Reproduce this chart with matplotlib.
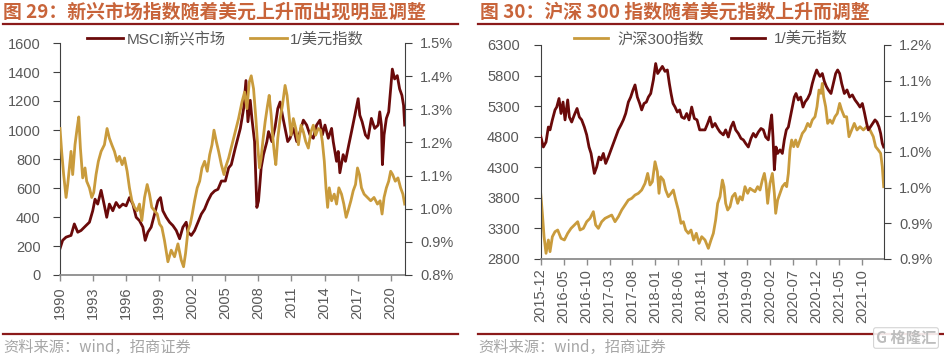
import numpy as np
import matplotlib
matplotlib.use("Agg")
import matplotlib.pyplot as plt
from matplotlib.lines import Line2D

plt.rcParams['font.family'] = ['Liberation Sans', 'Noto Sans CJK SC', 'DejaVu Sans']

# ---------- left chart: MSCI EM vs 1/DXY ----------
msci_year = [1990.00, 1990.24, 1990.55, 1991.00, 1991.30, 1991.61, 1991.91, 1992.36, 1992.67, 1992.97,
             1993.18, 1993.42, 1993.73, 1994.03, 1994.24, 1994.48, 1994.79, 1995.09, 1995.39, 1995.70,
             1996.00, 1996.30, 1996.61, 1996.91, 1997.21, 1997.52, 1997.73, 1997.97, 1998.27, 1998.58,
             1998.88, 1999.12, 1999.33, 1999.64, 1999.94, 2000.24, 2000.55, 2000.85, 2001.15, 2001.45,
             2001.61, 2001.91, 2002.21, 2002.52, 2002.82, 2003.12, 2003.42, 2003.73, 2004.03, 2004.33,
             2004.64, 2005.00, 2005.30, 2005.54, 2005.90, 2006.36, 2006.66, 2006.87, 2007.05, 2007.26,
             2007.41, 2007.65, 2007.86, 2008.01, 2008.25, 2008.46, 2008.77, 2008.92, 2009.22, 2009.52,
             2009.76, 2009.97, 2010.18, 2010.42, 2010.66, 2010.87, 2011.17, 2011.48, 2011.78, 2012.08,
             2012.38, 2012.68, 2012.98, 2013.28, 2013.58, 2013.80, 2014.04, 2014.34, 2014.64, 2014.79,
             2015.09, 2015.24, 2015.39, 2015.69, 2015.90, 2016.20, 2016.45, 2016.75, 2017.05, 2017.20,
             2017.41, 2017.71, 2017.95, 2018.25, 2018.55, 2018.86, 2019.01, 2019.16, 2019.25, 2019.40,
             2019.61, 2019.82, 2020.00, 2020.15, 2020.36, 2020.60, 2020.81, 2021.02, 2021.17, 2021.27]
msci_val = [182, 239, 261, 273, 352, 295, 307, 341, 364, 443,
            523, 489, 584, 477, 398, 489, 443, 500, 466, 489,
            477, 534, 489, 398, 375, 330, 239, 295, 330, 420,
            511, 534, 443, 398, 364, 341, 307, 250, 330, 364,
            295, 273, 307, 364, 420, 455, 511, 557, 580, 591,
            648, 648, 739, 761, 875, 1011, 1148, 1341, 1057, 1205,
            1080, 920, 466, 511, 739, 830, 920, 989, 920, 1023,
            1148, 1193, 1102, 1011, 920, 943, 1011, 920, 989, 1068,
            1034, 966, 943, 1034, 1068, 966, 1034, 943, 1011, 920,
            784, 852, 705, 830, 784, 898, 989, 1102, 1216, 1102,
            1057, 966, 943, 1080, 1011, 1034, 1125, 1034, 761, 966,
            1080, 1125, 1284, 1420, 1352, 1375, 1284, 1239, 1170, 1034]

usd_year = [1990.00, 1990.15, 1990.33, 1990.55, 1990.70, 1990.85, 1991.00, 1991.15, 1991.36, 1991.55,
            1991.70, 1991.85, 1992.06, 1992.27, 1992.42, 1992.67, 1992.88, 1993.06, 1993.27, 1993.48,
            1993.73, 1994.03, 1994.27, 1994.48, 1994.70, 1994.94, 1995.18, 1995.39, 1995.64, 1995.85,
            1996.09, 1996.30, 1996.52, 1996.76, 1997.00, 1997.21, 1997.42, 1997.67, 1997.91, 1998.12,
            1998.33, 1998.58, 1998.82, 1999.03, 1999.24, 1999.48, 1999.79, 2000.09, 2000.39, 2000.70,
            2001.00, 2001.21, 2001.39, 2001.61, 2001.82, 2002.00, 2002.21, 2002.45, 2002.67, 2002.88,
            2003.12, 2003.36, 2003.58, 2003.79, 2003.97, 2004.18, 2004.39, 2004.64, 2004.88, 2005.00,
            2005.30, 2005.60, 2005.90, 2006.20, 2006.51, 2006.75, 2006.96, 2007.17, 2007.35, 2007.56,
            2007.77, 2007.95, 2008.10, 2008.25, 2008.40, 2008.61, 2008.83, 2008.98, 2009.16, 2009.31,
            2009.46, 2009.58, 2009.76, 2009.97, 2010.18, 2010.42, 2010.60, 2010.78, 2010.96, 2011.17,
            2011.39, 2011.63, 2011.87, 2012.08, 2012.29, 2012.53, 2012.77, 2012.98, 2013.19, 2013.43,
            2013.64, 2013.80, 2013.98, 2014.13, 2014.28, 2014.43, 2014.64, 2014.88, 2015.09, 2015.30,
            2015.54, 2015.75, 2015.96, 2016.14, 2016.39, 2016.60, 2016.81, 2016.99, 2017.17, 2017.35,
            2017.59, 2017.89, 2018.19, 2018.49, 2018.80, 2019.04, 2019.22, 2019.40, 2019.61, 2019.82,
            2020.00, 2020.18, 2020.42, 2020.66, 2020.90, 2021.11, 2021.27]
usd_val = [1.242, 1.173, 1.103, 1.034, 1.073, 1.123, 1.173, 1.103, 1.193, 1.242,
           1.277, 1.183, 1.093, 1.123, 1.083, 1.063, 1.034, 1.049, 1.103, 1.143,
           1.173, 1.193, 1.242, 1.213, 1.193, 1.173, 1.143, 1.158, 1.133, 1.153,
           1.113, 1.063, 1.024, 1.004, 0.994, 1.014, 0.964, 1.034, 1.073, 1.044,
           1.004, 0.994, 0.984, 0.954, 0.944, 0.904, 0.840, 0.875, 0.855, 0.894,
           0.845, 0.825, 0.865, 0.934, 0.954, 0.984, 1.024, 1.063, 1.083, 1.123,
           1.143, 1.113, 1.163, 1.193, 1.237, 1.203, 1.173, 1.133, 1.103, 1.123,
           1.153, 1.193, 1.232, 1.272, 1.322, 1.352, 1.302, 1.382, 1.401, 1.362,
           1.272, 1.183, 1.123, 1.153, 1.203, 1.262, 1.312, 1.342, 1.282, 1.213,
           1.163, 1.133, 1.213, 1.272, 1.312, 1.372, 1.342, 1.282, 1.222, 1.272,
           1.242, 1.193, 1.252, 1.232, 1.203, 1.183, 1.232, 1.252, 1.222, 1.242,
           1.237, 1.203, 1.143, 1.063, 1.004, 1.063, 1.024, 1.044, 1.014, 1.063,
           1.044, 1.014, 0.974, 0.994, 1.024, 1.054, 1.073, 1.123, 1.103, 1.063,
           1.044, 1.034, 1.024, 1.034, 1.014, 1.024, 0.984, 1.034, 1.063, 1.083,
           1.113, 1.103, 1.083, 1.093, 1.063, 1.044, 1.014]

left_xticks = [1990, 1993, 1996, 1999, 2002, 2005, 2008, 2011, 2014, 2017, 2020]

# ---------- right chart: CSI 300 vs 1/DXY (months since 2015-12) ----------
csi_month = [0.00, 0.36, 0.73, 1.16, 1.67, 2.03, 2.54, 3.12, 3.70, 4.43,
             5.16, 5.88, 6.61, 7.33, 8.06, 8.57, 9.30, 10.02, 10.75, 11.47,
             11.98, 12.56, 13.29, 14.02, 14.74, 15.47, 16.19, 16.92, 17.65, 18.37,
             19.10, 19.83, 20.55, 21.28, 22.00, 22.73, 23.31, 23.82, 24.33, 24.91,
             25.42, 25.78, 26.14, 26.73, 27.23, 27.81, 28.40, 28.90, 29.41, 29.99,
             30.57, 31.08, 31.59, 32.17, 32.75, 33.33, 33.91, 34.50, 35.08, 35.80,
             36.53, 37.11, 37.62, 38.12, 38.56, 39.07, 39.58, 39.94, 40.30, 40.74,
             41.25, 41.75, 42.34, 42.92, 43.43, 43.93, 44.51, 45.10, 45.60, 46.11,
             46.69, 47.27, 47.78, 48.29, 48.73, 49.09, 49.45, 49.96, 50.47, 50.91,
             51.20, 51.63, 52.14, 52.65, 53.23, 53.59, 53.96, 54.32, 54.68, 55.12,
             55.55, 55.99, 56.50, 57.01, 57.59, 58.17, 58.68, 59.18, 59.77, 60.20,
             60.64, 61.07, 61.36, 61.65, 62.09, 62.52, 63.03, 63.54, 64.12, 64.63,
             65.14, 65.58, 66.16, 66.66, 67.17, 67.75, 68.33, 68.92, 69.57, 70.30,
             71.02, 71.75, 72.47, 72.98, 73.56, 74.07, 74.43, 74.73]
csi_val = [3874, 3547, 3165, 2893, 3111, 2920, 3165, 3247, 3274, 3138,
           3111, 3220, 3301, 3356, 3410, 3274, 3301, 3410, 3465, 3574,
           3356, 3301, 3410, 3465, 3492, 3519, 3410, 3492, 3601, 3683,
           3765, 3792, 3846, 3874, 3928, 4037, 4200, 4010, 4064, 4391,
           4228, 3874, 4146, 4091, 3928, 3819, 3874, 3928, 3765, 3601,
           3383, 3410, 3274, 3220, 3274, 3111, 3220, 3056, 3165, 3111,
           2974, 3111, 3220, 3438, 3710, 3819, 4091, 3983, 3710, 3601,
           3656, 3819, 3874, 3710, 3819, 3765, 3983, 3874, 3956, 3928,
           3901, 3983, 3928, 4091, 4200, 4037, 3710, 4037, 4200, 3874,
           3547, 3765, 3874, 3983, 4037, 3983, 4200, 4582, 4746, 4637,
           4746, 4637, 4746, 4855, 4910, 5018, 4964, 5073, 5127, 5290,
           5563, 5509, 5672, 5454, 5290, 5018, 5073, 5018, 5127, 5181,
           5345, 5236, 5127, 5127, 4800, 4910, 5018, 4910, 4964, 4910,
           4964, 4910, 4800, 4637, 4582, 4528, 4310, 3983]

dxy_month = [0.00, 0.58, 1.16, 1.67, 2.03, 2.54, 3.12, 3.49, 3.99, 4.43,
             4.87, 5.30, 5.88, 6.25, 6.75, 7.33, 7.92, 8.42, 8.93, 9.51,
             10.02, 10.53, 10.97, 11.33, 11.69, 12.20, 12.71, 13.14, 13.65, 14.16,
             14.74, 15.32, 15.83, 16.34, 16.92, 17.50, 18.01, 18.52, 19.10, 19.61,
             20.12, 20.55, 21.06, 21.57, 22.00, 22.51, 23.02, 23.46, 23.97, 24.55,
             25.05, 25.49, 26.00, 26.51, 27.09, 27.60, 28.03, 28.40, 28.83, 29.27,
             29.77, 30.28, 30.72, 31.30, 31.81, 32.32, 32.90, 33.48, 34.06, 34.64,
             35.22, 35.80, 36.38, 36.89, 37.40, 37.98, 38.56, 39.07, 39.79, 40.30,
             40.88, 41.46, 41.97, 42.48, 43.06, 43.64, 44.15, 44.66, 45.24, 45.82,
             46.33, 46.84, 47.42, 48.00, 48.51, 49.02, 49.60, 50.03, 50.32, 50.61,
             50.91, 51.27, 51.63, 52.14, 52.65, 53.08, 53.52, 53.96, 54.39, 54.83,
             55.26, 55.63, 56.13, 56.64, 57.15, 57.59, 58.17, 58.68, 59.18, 59.62,
             60.13, 60.49, 60.85, 61.36, 61.80, 62.23, 62.67, 63.25, 63.76, 64.27,
             64.70, 65.14, 65.58, 66.16, 66.74, 67.32, 67.90, 68.48, 69.06, 69.57,
             70.08, 70.51, 71.02, 71.38, 71.82, 72.33, 72.84, 73.27, 73.71, 74.07,
             74.43, 74.73]
dxy_val = [1.072, 1.057, 1.064, 1.085, 1.081, 1.095, 1.109, 1.113, 1.125, 1.104,
           1.120, 1.095, 1.123, 1.099, 1.092, 1.102, 1.111, 1.099, 1.095, 1.085,
           1.074, 1.057, 1.048, 1.034, 1.020, 1.029, 1.043, 1.039, 1.048, 1.034,
           1.043, 1.053, 1.062, 1.071, 1.081, 1.088, 1.095, 1.104, 1.120, 1.127,
           1.137, 1.144, 1.127, 1.118, 1.109, 1.118, 1.120, 1.127, 1.132, 1.151,
           1.174, 1.160, 1.165, 1.170, 1.163, 1.165, 1.146, 1.132, 1.118, 1.113,
           1.106, 1.109, 1.099, 1.097, 1.104, 1.095, 1.113, 1.097, 1.095, 1.081,
           1.081, 1.081, 1.090, 1.099, 1.085, 1.090, 1.083, 1.078, 1.074, 1.081,
           1.071, 1.085, 1.092, 1.081, 1.076, 1.069, 1.067, 1.062, 1.057, 1.069,
           1.076, 1.071, 1.078, 1.083, 1.081, 1.071, 1.067, 1.090, 1.102, 1.071,
           1.025, 1.057, 1.048, 1.053, 1.048, 1.067, 1.081, 1.085, 1.099, 1.113,
           1.127, 1.132, 1.123, 1.127, 1.113, 1.120, 1.125, 1.132, 1.146, 1.156,
           1.165, 1.160, 1.156, 1.160, 1.149, 1.142, 1.137, 1.132, 1.146, 1.160,
           1.165, 1.160, 1.146, 1.132, 1.137, 1.127, 1.130, 1.123, 1.118, 1.113,
           1.118, 1.106, 1.090, 1.081, 1.085, 1.090, 1.095, 1.092, 1.085, 1.076,
           1.062, 1.057]

right_xticks = [0, 5, 10, 15, 20, 25, 30, 35, 40, 45, 50, 55, 60, 65, 70]
right_xlabels = ['2015-12', '2016-05', '2016-10', '2017-03', '2017-08', '2018-01', '2018-06',
                 '2018-11', '2019-04', '2019-09', '2020-02', '2020-07', '2020-12', '2021-05', '2021-10']
right_y2ticks = [0.90, 0.95, 1.00, 1.05, 1.10, 1.15, 1.20]
right_y2labels = ['0.9%', '0.9%', '1.0%', '1.0%', '1.1%', '1.1%', '1.2%']

RED = '#6A0A0A'
GOLD = '#C99B3C'
TITLE_C = '#C8643A'
RULE_C = '#8B1A1A'
TXT = '#595959'
FS = 10.5
LW = 2.0

W, H = 944, 356
fig = plt.figure(figsize=(W / 100, H / 100), dpi=100)


def px(x, y):
    return x / W, 1 - y / H


def style(ax, ax2, lpad, rpad, xpad):
    for a in (ax, ax2):
        a.spines['top'].set_visible(False)
        a.patch.set_visible(False)
    ax.spines['left'].set_color('#404040')
    ax.spines['left'].set_linewidth(0.8)
    ax2.spines['right'].set_color('#404040')
    ax2.spines['right'].set_linewidth(0.8)
    ax.spines['bottom'].set_color('#8C8C8C')
    ax.spines['bottom'].set_linewidth(1.3)
    ax2.spines['bottom'].set_visible(False)
    ax2.spines['left'].set_visible(False)
    ax.spines['right'].set_visible(False)
    ax.tick_params(axis='y', direction='out', length=5, width=0.8, color='#404040',
                   labelsize=FS, labelcolor=TXT, pad=lpad)
    ax2.tick_params(axis='y', direction='out', length=5, width=0.8, color='#404040',
                    labelsize=FS, labelcolor=TXT, pad=rpad)
    ax.tick_params(axis='x', direction='out', length=4, width=1.0, color='#8C8C8C',
                   labelsize=FS, labelcolor=TXT, pad=xpad, labelrotation=90)


# left panel
ax = fig.add_axes([60 / W, 1 - 275 / H, 345 / W, 232 / H])
ax2 = ax.twinx()
ax.plot(msci_year, msci_val, color=RED, lw=LW)
ax2.plot(usd_year, usd_val, color=GOLD, lw=LW)
ax.set_xlim(1990, 2021.3)
ax.set_ylim(0, 1600)
ax.set_yticks(range(0, 1601, 200))
ax2.set_ylim(0.8, 1.5)
ax2.set_yticks([0.8, 0.9, 1.0, 1.1, 1.2, 1.3, 1.4, 1.5])
ax2.set_yticklabels([f'{v:.1f}%' for v in [0.8, 0.9, 1.0, 1.1, 1.2, 1.3, 1.4, 1.5]])
ax.set_xticks(left_xticks)
ax.set_xticklabels([str(y) for y in left_xticks])
style(ax, ax2, 9, 6, 4)

# right panel
bx = fig.add_axes([540.7 / W, 1 - 259 / H, 343.3 / W, 214 / H])
bx2 = bx.twinx()
bx.plot(csi_month, csi_val, color=GOLD, lw=LW)
bx2.plot(dxy_month, dxy_val, color=RED, lw=LW)
bx.set_xlim(0, 74.8)
bx.set_ylim(2800, 6300)
bx.set_yticks(range(2800, 6301, 500))
bx2.set_ylim(0.9, 1.2)
bx2.set_yticks(right_y2ticks)
bx2.set_yticklabels(right_y2labels)
bx.set_xticks(right_xticks)
bx.set_xticklabels(right_xlabels)
style(bx, bx2, 10, 6, 3)

# legends
fig.legend(handles=[Line2D([], [], color=RED, lw=LW), Line2D([], [], color=GOLD, lw=LW)],
           labels=['MSCI新兴市场', '1/美元指数'], loc='center', bbox_to_anchor=px(225, 39),
           ncol=2, frameon=False, fontsize=FS + 0.5, labelcolor=TXT, handlelength=2.4,
           handletextpad=0.2, columnspacing=1.6, borderaxespad=0)
fig.legend(handles=[Line2D([], [], color=GOLD, lw=LW), Line2D([], [], color=RED, lw=LW)],
           labels=['沪深300指数', '1/美元指数'], loc='center', bbox_to_anchor=px(711, 39),
           ncol=2, frameon=False, fontsize=FS + 0.5, labelcolor=TXT, handlelength=2.2,
           handletextpad=0.6, columnspacing=1.8, borderaxespad=0)

# titles, rules, source
fig.text(*px(3, 12), '图 29：新兴市场指数随着美元上升而出现明显调整', color=TITLE_C,
         fontsize=13.6, fontweight='bold', va='center', ha='left',
         family=['Noto Sans CJK SC', 'DejaVu Sans'])
fig.text(*px(480, 12), '图 30：沪深 300 指数随着美元指数上升而调整', color=TITLE_C,
         fontsize=13.6, fontweight='bold', va='center', ha='left',
         family=['Noto Sans CJK SC', 'DejaVu Sans'])
for x0, x1 in [(3, 458), (478, 944)]:
    for yy in (24, 334):
        fig.add_artist(Line2D([x0 / W, x1 / W], [1 - yy / H, 1 - yy / H],
                              color=RULE_C, lw=1.6))
for x0 in (3, 478):
    fig.text(*px(x0, 347), '资料来源：wind，招商证券', color='#A6A6A6', fontsize=11,
             va='center', ha='left', family=['Noto Sans CJK SC', 'DejaVu Sans'])

# watermark
fig.text(*px(906, 338), 'G 格隆汇', color='#BDBDBD', fontsize=11, fontweight='bold',
         va='center', ha='center', family=['Noto Sans CJK SC', 'DejaVu Sans'],
         bbox=dict(boxstyle='round,pad=0.15', fc='white', ec='#D0D0D0', lw=0.8, alpha=0.9))

fig.savefig('out.png', dpi=100)
